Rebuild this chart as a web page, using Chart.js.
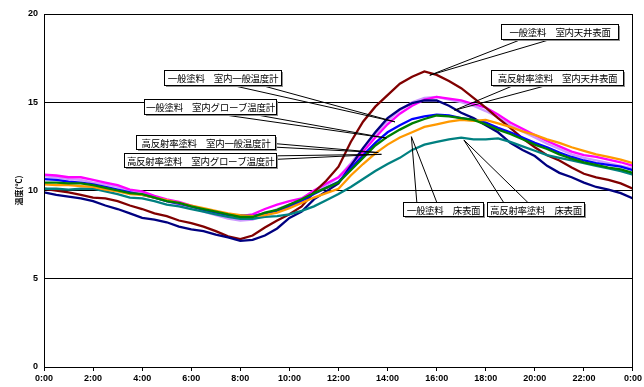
<!DOCTYPE html>
<html>
<head>
<meta charset="utf-8">
<script src="https://cdn.jsdelivr.net/npm/chart.js@4.4.1/dist/chart.umd.min.js"></script>
<style>
  html, body { margin: 0; padding: 0; background: #fff; }
  #wrap { width: 644px; height: 387px; }
</style>
</head>
<body>
<div id="wrap"><canvas id="tempChart" width="644" height="387"></canvas></div>
<script>
// 時刻 (h) - 30分ごと
const hours = [0,0.5,1,1.5,2,2.5,3,3.5,4,4.5,5,5.5,6,6.5,7,7.5,8,8.5,9,9.5,10,10.5,11,11.5,12,
               12.5,13,13.5,14,14.5,15,15.5,16,16.5,17,17.5,18,18.5,19,19.5,20,20.5,21,21.5,22,22.5,23,23.5,24];

// 温度 (℃)
const ceilGeneral = [10.1,10.0,9.9,9.75,9.6,9.55,9.4,9.15,8.95,8.7,8.55,8.3,8.15,7.95,7.7,7.4,7.25,
                     7.45,7.9,8.3,8.65,9.1,9.9,10.55,11.35,12.75,13.9,14.75,15.4,16.05,16.45,16.75,16.55,
                     16.2,15.8,15.25,14.7,14.1,13.55,12.95,12.45,12.0,11.7,11.3,10.95,10.75,10.6,10.4,10.1];
const ceilHigh    = [9.9,9.75,9.65,9.55,9.4,9.15,8.95,8.7,8.45,8.35,8.2,7.95,7.8,7.7,7.5,7.35,7.15,
                     7.2,7.45,7.85,8.45,8.8,9.5,9.95,10.4,11.4,12.4,13.3,14.1,14.6,14.95,15.1,15.1,
                     14.8,14.4,14.1,13.7,13.3,12.7,12.3,11.95,11.4,11.0,10.75,10.45,10.2,10.05,9.85,9.55];
const airGeneral  = [10.9,10.85,10.75,10.75,10.6,10.45,10.3,10.05,9.95,9.7,9.5,9.35,9.15,8.95,8.8,8.6,8.55,
                     8.65,8.95,9.2,9.4,9.55,10.0,10.4,10.75,11.45,12.2,13.0,13.75,14.35,14.8,15.15,15.3,
                     15.2,15.1,14.9,14.7,14.3,13.85,13.5,13.15,12.8,12.5,12.2,12.0,11.9,11.75,11.6,11.4];
const globeGeneral= [10.8,10.75,10.65,10.6,10.45,10.35,10.2,9.95,9.85,9.6,9.4,9.2,9.05,8.8,8.6,8.4,8.3,
                     8.35,8.6,8.95,9.2,9.45,9.9,10.3,10.75,11.55,12.4,13.2,13.95,14.55,15.0,15.25,15.3,
                     15.15,15.0,14.8,14.5,14.15,13.7,13.35,13.0,12.65,12.35,12.05,11.85,11.7,11.55,11.4,11.25];
const airHigh     = [10.65,10.6,10.5,10.45,10.35,10.2,10.05,9.9,9.75,9.6,9.4,9.25,9.1,8.9,8.75,8.6,8.6,
                     8.55,8.7,8.85,9.1,9.4,9.8,10.15,10.5,11.25,12.0,12.7,13.3,13.7,14.05,14.2,14.3,
                     14.25,14.1,14.0,13.85,13.55,13.3,13.0,12.7,12.45,12.15,11.9,11.7,11.55,11.45,11.35,11.15];
const globeHigh   = [10.45,10.45,10.4,10.4,10.3,10.15,10.0,9.85,9.8,9.6,9.4,9.3,9.1,8.95,8.8,8.65,8.5,
                     8.5,8.75,8.9,9.2,9.5,9.85,10.15,10.45,11.15,11.85,12.55,13.05,13.45,13.8,14.05,14.25,
                     14.2,14.1,14.0,13.75,13.45,13.2,12.9,12.6,12.35,12.05,11.8,11.6,11.45,11.3,11.2,11.0];
const floorGeneral= [10.35,10.3,10.3,10.25,10.2,10.05,9.95,9.8,9.75,9.6,9.45,9.3,9.15,9.0,8.85,8.7,8.6,
                     8.55,8.6,8.75,9.0,9.3,9.6,9.85,10.1,10.85,11.5,12.1,12.6,13.0,13.3,13.6,13.75,
                     13.9,14.0,13.95,14.0,13.8,13.6,13.35,13.15,12.9,12.7,12.45,12.25,12.05,11.9,11.75,11.55];
const floorHigh   = [10.1,10.1,10.05,10.1,10.1,9.95,9.8,9.6,9.55,9.4,9.2,9.1,8.95,8.8,8.65,8.5,8.4,
                     8.4,8.5,8.55,8.65,8.85,9.1,9.45,9.8,10.2,10.65,11.1,11.5,11.85,12.3,12.6,12.75,
                     12.9,13.0,12.9,12.9,12.95,12.75,12.5,12.25,12.0,11.85,11.7,11.55,11.4,11.25,11.1,10.9];

// 吹き出し (box: 左上 [h, ℃], tip: 先端 [h, ℃])
const callouts = [
    { text: '一般塗料　室内天井表面',         box: [18.62, 19.45], w: 117, h: 15, tip: [15.72, 16.53] },
    { text: '高反射率塗料　室内天井表面',     box: [18.21, 16.81], w: 132, h: 15, tip: [16.73, 14.55] },
    { text: '一般塗料　室内一般温度計',       box: [4.88, 16.85],  w: 117, h: 15, tip: [14.30, 13.89] },
    { text: '一般塗料　室内グローブ温度計',   box: [4.09, 15.21],  w: 132, h: 15, tip: [13.95, 12.97] },
    { text: '高反射率塗料　室内一般温度計',   box: [3.73, 13.14],  w: 139, h: 14, tip: [13.62, 12.15] },
    { text: '高反射率塗料　室内グローブ温度計', box: [3.28, 12.11], w: 152, h: 14, tip: [13.75, 12.05] },
    { text: '一般塗料　床表面',               box: [14.63, 9.37],  w: 80,  h: 14, tip: [14.97, 13.05] },
    { text: '高反射率塗料　床表面',           box: [18.05, 9.37],  w: 97,  h: 14, tip: [17.11, 12.86] }
];

const pts = arr => arr.map((v, i) => ({ x: hours[i], y: v }));
const line = (label, arr, color) => ({
    label: label, data: pts(arr), borderColor: color, backgroundColor: color,
    borderWidth: 2.3, pointRadius: 0, tension: 0, fill: false
});

// 枠線と吹き出し
const calloutPlugin = {
    id: 'callouts',
    afterDatasetsDraw(chart) {
        const { ctx, chartArea: a, scales: { x, y } } = chart;
        ctx.save();
        ctx.strokeStyle = '#000';
        ctx.lineWidth = 1;
        ctx.strokeRect(Math.round(a.left) + 0.5, Math.round(a.top) + 0.5,
                       Math.round(a.right - a.left) - 1, Math.round(a.bottom - a.top));

        ctx.font = '9.5px "Noto Sans CJK JP"';
        try { ctx.letterSpacing = '-0.3px'; } catch (e) {}
        callouts.forEach(c => {
            const bx = Math.round(x.getPixelForValue(c.box[0])) + 0.5;
            const by = Math.round(y.getPixelForValue(c.box[1])) + 0.5;
            const w = c.w, h = c.h;
            const tx = x.getPixelForValue(c.tip[0]), ty = y.getPixelForValue(c.tip[1]);
            const dx = tx - (bx + w / 2), dy = ty - (by + h / 2);
            let p1, p2;
            if (Math.abs(dx) * h > Math.abs(dy) * w) {
                const ex = dx > 0 ? bx + w : bx;
                const f = dy > 0 ? [7, 10] : [2, 5];
                p1 = [ex, by + h * f[0] / 12]; p2 = [ex, by + h * f[1] / 12];
            } else {
                const ey = dy > 0 ? by + h : by;
                const f = dx > 0 ? [7, 10] : [2, 5];
                p1 = [bx + w * f[0] / 12, ey]; p2 = [bx + w * f[1] / 12, ey];
            }
            ctx.beginPath();
            ctx.moveTo(p1[0], p1[1]); ctx.lineTo(tx, ty); ctx.lineTo(p2[0], p2[1]);
            ctx.stroke();

            ctx.fillStyle = '#909090';
            ctx.fillRect(bx + 1.5, by + 1.5, w, h);
            ctx.fillStyle = '#fff';
            ctx.fillRect(bx, by, w, h);
            ctx.strokeRect(bx, by, w, h);
            ctx.fillStyle = '#000';
            ctx.textAlign = 'center';
            ctx.textBaseline = 'middle';
            ctx.fillText(c.text, bx + w / 2, by + h / 2 + 0.5);
        });
        ctx.restore();
    }
};

const tickFont = { family: '"Liberation Sans", Arial, sans-serif', size: 9, weight: 'bold' };

new Chart(document.getElementById('tempChart'), {
    type: 'line',
    data: {
        datasets: [
            line('高反射率塗料 室内グローブ温度計', globeHigh, '#008000'),
            line('一般塗料 床表面', floorGeneral, '#FF9900'),
            line('高反射率塗料 床表面', floorHigh, '#008080'),
            line('高反射率塗料 室内一般温度計', airHigh, '#0000FF'),
            line('高反射率塗料 室内天井表面', ceilHigh, '#000080'),
            line('一般塗料 室内天井表面', ceilGeneral, '#800000'),
            line('一般塗料 室内一般温度計', airGeneral, '#FF00FF'),
            line('一般塗料 室内グローブ温度計', globeGeneral, '#CC99FF')
        ]
    },
    options: {
        responsive: false,
        animation: false,
        layout: { padding: { top: 14, right: 8, left: 0, bottom: 0 } },
        plugins: { legend: { display: false }, tooltip: { enabled: false } },
        scales: {
            x: {
                type: 'linear', min: 0, max: 24,
                afterFit: s => { s.height = 20; },
                border: { color: '#000', width: 1 },
                grid: { drawOnChartArea: false, color: '#000', tickLength: 4 },
                ticks: {
                    stepSize: 2, autoSkip: false, maxRotation: 0, padding: 2,
                    color: '#000', font: tickFont,
                    callback: v => (v % 24) + ':00'
                }
            },
            y: {
                min: 0, max: 20,
                afterFit: s => { s.width = 44; },
                border: { color: '#000', width: 1 },
                grid: { color: '#000', drawTicks: false, lineWidth: 1 },
                ticks: { stepSize: 5, padding: 6, color: '#000', font: tickFont },
                title: {
                    display: true, text: '温度(℃)', color: '#000',
                    font: { family: '"Noto Sans CJK JP", sans-serif', size: 8, weight: 'bold' },
                    padding: { top: 14, bottom: 0 }
                }
            }
        }
    },
    plugins: [calloutPlugin]
});
</script>
</body>
</html>
